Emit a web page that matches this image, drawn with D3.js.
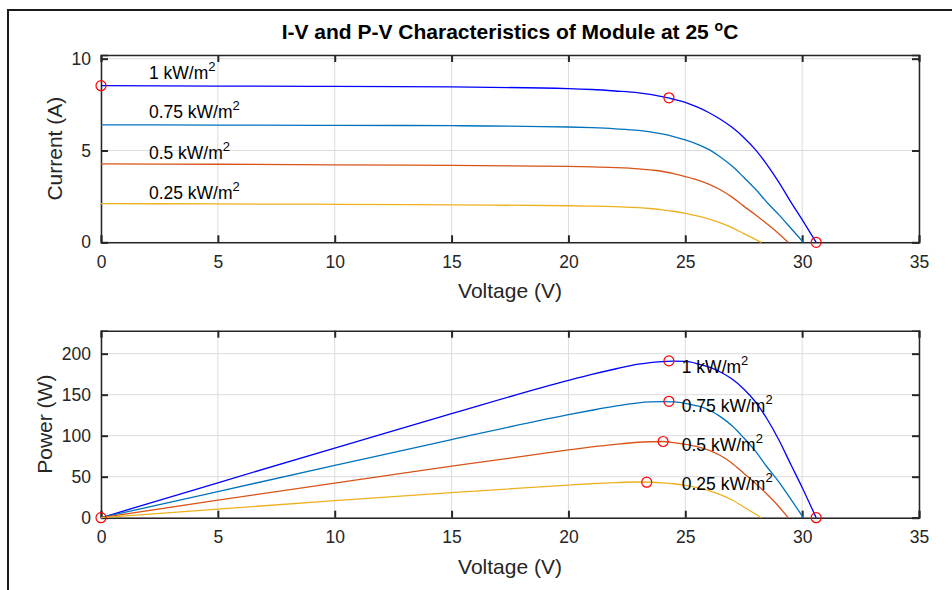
<!DOCTYPE html>
<html>
<head>
<meta charset="utf-8">
<script src="https://cdn.jsdelivr.net/npm/d3@7"></script>
<style>
  body { margin: 0; background: #fff; }
  svg { font-family: Arial, "Liberation Sans", Helvetica, sans-serif; }
  .tick text { fill: #262626; }
</style>
</head>
<body>
<div id="chart"></div>
<script>
// Irradiance levels (labels) and line colours
const levels = ["1", "0.75", "0.5", "0.25"];
const colors = ["#0000ff", "#0072bd", "#d95319", "#edb120"];

// Voltage points (V) for each curve
const volt1 = [0, 5, 10, 15, 20, 21, 22, 23, 23.5, 24, 24.5, 25, 25.5, 26, 26.5, 27, 27.5, 28, 28.5, 29, 29.5, 30, 30.6];
const volt075 = [0, 5, 10, 15, 20, 21, 22, 23, 23.5, 24, 24.5, 25, 25.5, 26, 26.5, 27, 27.5, 28, 28.5, 29, 29.5, 30.05];
const volt05 = [0, 5, 10, 15, 20, 21, 22, 23, 23.5, 24, 24.5, 25, 25.5, 26, 26.5, 27, 27.5, 28, 28.5, 29, 29.4];
const volt025 = [0, 5, 10, 15, 20, 21, 22, 23, 23.5, 24, 24.5, 25, 25.5, 26, 26.5, 27, 27.5, 28, 28.25];

// Current (A)
const curr1 = [8.53, 8.51, 8.49, 8.46, 8.37, 8.32, 8.24, 8.14, 8.05, 7.93, 7.79, 7.62, 7.37, 7.07, 6.70, 6.26, 5.71, 5.05, 4.22, 3.28, 2.23, 1.23, 0];
const curr075 = [6.40, 6.38, 6.37, 6.35, 6.28, 6.24, 6.18, 6.09, 6.01, 5.90, 5.76, 5.58, 5.35, 5.06, 4.65, 4.15, 3.54, 2.90, 2.17, 1.51, 0.79, 0];
const curr05 = [4.27, 4.25, 4.22, 4.19, 4.13, 4.11, 4.07, 4.00, 3.94, 3.87, 3.74, 3.58, 3.40, 3.17, 2.86, 2.46, 1.97, 1.50, 1.00, 0.47, 0];
const curr025 = [2.11, 2.09, 2.07, 2.04, 1.99, 1.97, 1.94, 1.89, 1.84, 1.77, 1.69, 1.58, 1.44, 1.27, 1.06, 0.80, 0.475, 0.16, 0];

// Power (W)
const pow1 = [0, 42.6, 84.9, 126.9, 167.4, 174.7, 181.3, 187.2, 189.2, 190.3, 190.9, 190.5, 187.9, 183.8, 177.6, 169.0, 157.0, 141.4, 120.3, 95.1, 65.8, 36.9, 0];
const pow075 = [0, 31.9, 63.7, 95.3, 125.6, 131.0, 136.0, 140.1, 141.2, 141.6, 141.1, 139.5, 136.4, 131.6, 123.2, 112.1, 97.4, 81.2, 61.8, 43.8, 23.3, 0];
const pow05 = [0, 21.3, 42.2, 62.9, 82.6, 86.3, 89.5, 92.0, 92.6, 92.9, 91.6, 89.5, 86.7, 82.4, 75.8, 66.4, 54.2, 42.0, 28.5, 13.6, 0];
const pow025 = [0, 10.5, 20.7, 30.6, 39.8, 41.4, 42.7, 43.5, 43.2, 42.5, 41.4, 39.5, 36.7, 33.0, 28.1, 21.6, 13.1, 4.5, 0];

// Red circle markers: [voltage, value]
const ivMarkers = [[0, 8.53], [24.3, 7.87], [30.6, 0]];
const pvMarkers = [[0, 0], [24.3, 191.2], [24.3, 141.9], [24.05, 92.9], [23.35, 43.3], [30.6, 0]];

const xTicks = [0, 5, 10, 15, 20, 25, 30, 35];
const ivTicks = [0, 5, 10];
const pvTicks = [0, 50, 100, 150, 200];

const voltSets = [volt1, volt075, volt05, volt025];
const currSets = [curr1, curr075, curr05, curr025];
const powSets = [pow1, pow075, pow05, pow025];

const W = 952, H = 590;
const svg = d3.select("#chart").append("svg")
    .attr("width", W)
    .attr("height", H);

// Figure frame
svg.append("path")
    .attr("d", `M${W + 5},10 H8 V${H + 5}`)
    .attr("fill", "none")
    .attr("stroke", "#1a1a1a")
    .attr("stroke-width", 2);

const x = d3.scaleLinear().domain([0, 35]).range([101, 919]);

// Title
svg.append("text")
    .attr("x", 510)
    .attr("y", 39)
    .attr("text-anchor", "middle")
    .attr("font-weight", "bold")
    .attr("font-size", 21)
    .attr("fill", "#000")
    .call(t => {
        t.append("tspan").text("I-V and P-V Characteristics of Module at 25 ");
        t.append("tspan").attr("font-size", 14).attr("dy", -8).text("o");
        t.append("tspan").attr("dy", 8).text("C");
    });

function drawPanel(cfg) {
    const y = d3.scaleLinear().domain(cfg.domain).range([cfg.bottom, cfg.top]);
    const g = svg.append("g");

    // grid
    g.selectAll(".gx").data(xTicks).enter().append("line")
        .attr("x1", d => x(d)).attr("x2", d => x(d))
        .attr("y1", cfg.top).attr("y2", cfg.bottom)
        .attr("stroke", "#dcdcdc").attr("stroke-width", 1);
    g.selectAll(".gy").data(cfg.ticks).enter().append("line")
        .attr("x1", 101).attr("x2", 919)
        .attr("y1", d => y(d)).attr("y2", d => y(d))
        .attr("stroke", "#dcdcdc").attr("stroke-width", 1);

    // axes (inward ticks)
    const axB = g.append("g").attr("transform", `translate(0,${cfg.bottom})`)
        .call(d3.axisBottom(x).tickValues(xTicks).tickSize(-7).tickPadding(13));
    const axT = g.append("g").attr("transform", `translate(0,${cfg.top})`)
        .call(d3.axisTop(x).tickValues(xTicks).tickSize(-7).tickFormat(""));
    const axL = g.append("g").attr("transform", "translate(101,0)")
        .call(d3.axisLeft(y).tickValues(cfg.ticks).tickSize(-7).tickPadding(10));
    const axR = g.append("g").attr("transform", "translate(919,0)")
        .call(d3.axisRight(y).tickValues(cfg.ticks).tickSize(-7).tickFormat(""));
    [axB, axT, axL, axR].forEach(a => {
        a.select(".domain").attr("stroke", "#262626").attr("stroke-width", 1.5);
        a.selectAll(".tick line").attr("stroke", "#262626").attr("stroke-width", 2);
        a.selectAll(".tick text").attr("font-size", 17.5).attr("font-family", "Arial, sans-serif");
    });

    // curves
    const line = d3.line()
        .x(d => x(d[0]))
        .y(d => y(d[1]))
        .curve(d3.curveMonotoneX);
    cfg.values.forEach((vals, i) => {
        const pts = voltSets[i].map((v, k) => [v, vals[k]]);
        g.append("path")
            .datum(pts)
            .attr("fill", "none")
            .attr("stroke", colors[i])
            .attr("stroke-width", 1.3)
            .attr("d", line);
    });

    // curve labels
    cfg.labelPos.forEach((p, i) => {
        const t = g.append("text")
            .attr("x", x(p[0]))
            .attr("y", y(p[1]))
            .attr("font-size", 17.5)
            .attr("fill", "#000");
        t.append("tspan").text(levels[i] + " kW/m");
        t.append("tspan").attr("font-size", 13).attr("dy", -8).text("2");
    });

    // markers
    g.selectAll(".mk").data(cfg.markers).enter().append("circle")
        .attr("cx", d => x(d[0]))
        .attr("cy", d => y(d[1]))
        .attr("r", 5)
        .attr("fill", "none")
        .attr("stroke", "#ff0000")
        .attr("stroke-width", 1.2);

    // axis labels
    g.append("text")
        .attr("x", 510)
        .attr("y", cfg.bottom + 56)
        .attr("text-anchor", "middle")
        .attr("font-size", 21)
        .attr("fill", "#262626")
        .text("Voltage (V)");
    g.append("text")
        .attr("transform", `translate(${cfg.ylabelX},${(cfg.top + cfg.bottom) / 2}) rotate(-90)`)
        .attr("text-anchor", "middle")
        .attr("font-size", 21)
        .attr("fill", "#262626")
        .text(cfg.ylabel);
}

drawPanel({
    top: 55, bottom: 242.3, domain: [0, 10.2], ticks: ivTicks,
    values: currSets, markers: ivMarkers, ylabel: "Current (A)", ylabelX: 62,
    labelPos: [[2.05, 8.9], [2.05, 6.75], [2.05, 4.55], [2.05, 2.38]]
});

drawPanel({
    top: 330.7, bottom: 517.7, domain: [0, 228], ticks: pvTicks,
    values: powSets, markers: pvMarkers, ylabel: "Power (W)", ylabelX: 52,
    labelPos: [[24.85, 176], [24.85, 129], [24.85, 81], [24.85, 34]]
});
</script>
</body>
</html>
